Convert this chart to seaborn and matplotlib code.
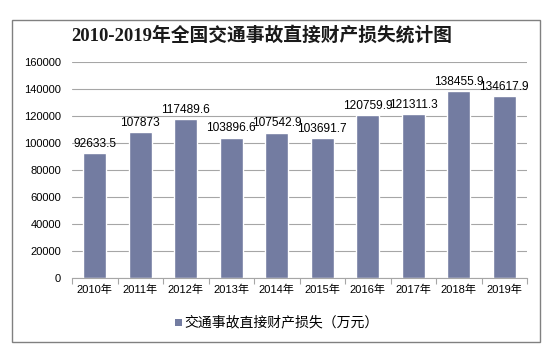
import matplotlib
matplotlib.use("Agg")
import matplotlib.pyplot as plt
import seaborn as sns
import pandas as pd
from matplotlib.patches import Rectangle

years = ["2010年", "2011年", "2012年", "2013年", "2014年", "2015年", "2016年", "2017年", "2018年", "2019年"]
values = [92633.5, 107873, 117489.6, 103896.6, 107542.9, 103691.7, 120759.9, 121311.3, 138455.9, 134617.9]
labels = ["92633.5", "107873", "117489.6", "103896.6", "107542.9", "103691.7", "120759.9", "121311.3", "138455.9", "134617.9"]
yticks = [0, 20000, 40000, 60000, 80000, 100000, 120000, 140000, 160000]
title = "2010-2019年全国交通事故直接财产损失统计图"
legend_label = "交通事故直接财产损失（万元）"

sns.set_theme(style="white")
plt.rcParams['font.family'] = ['Liberation Sans', 'Noto Sans CJK SC', 'DejaVu Sans']

color = "#737CA1"
df = pd.DataFrame({"year": years, "value": values})

fig = plt.figure(figsize=(5.52, 3.49), dpi=100)
ax = fig.add_axes([72/552, 1-278/349, (527-72)/552, (278-62)/349])
sns.barplot(data=df, x="year", y="value", color=color, width=0.5, ax=ax, saturation=1)

ax.set_ylim(0, 160000)
ax.set_xlim(-0.5, 9.5)
ax.set_yticks(yticks)
ax.set_yticklabels([str(t) for t in yticks])
ax.yaxis.grid(True, color="#A6A6A6", linewidth=0.8)
ax.set_axisbelow(True)
ax.set_xlabel("")
ax.set_ylabel("")
for s in ["top", "right", "left"]:
    ax.spines[s].set_visible(False)
ax.spines["bottom"].set_color("#A6A6A6")
ax.spines["bottom"].set_linewidth(0.8)
ax.set_xticks([i - 0.5 for i in range(11)], minor=True)
ax.tick_params(axis="x", which="minor", length=4, color="#A6A6A6", width=0.8, bottom=True)
ax.tick_params(axis="x", which="major", length=0, labelsize=8, colors="#000000", pad=5)
ax.tick_params(axis="y", length=0, labelsize=8, colors="#000000", pad=8)

for i, (v, l) in enumerate(zip(values, labels)):
    ax.text(i, v + 2500, l, ha="center", va="bottom", fontsize=8.6, color="#000000")

fig.text(262/552, 1 - 35/349, title, ha="center", va="center", fontsize=13.5, fontweight="bold",
         family=['Liberation Serif', 'Noto Sans CJK SC'], color="#1a1a1a")

# legend
fig.patches.append(Rectangle((175/552, 1 - 326/349), 7/552, 7/349, transform=fig.transFigure,
                             facecolor=color, edgecolor="none"))
fig.text(184/552, 1 - 322/349, legend_label, ha="left", va="center", fontsize=10, color="#000000",
         family=['Noto Sans CJK SC', 'DejaVu Sans'])

# outer border
fig.patches.append(Rectangle((12/552, 1 - 342/349), (540-12)/552, (342-20)/349, transform=fig.transFigure,
                             facecolor="none", edgecolor="#808080", linewidth=1))

fig.savefig("out.png", dpi=100)
